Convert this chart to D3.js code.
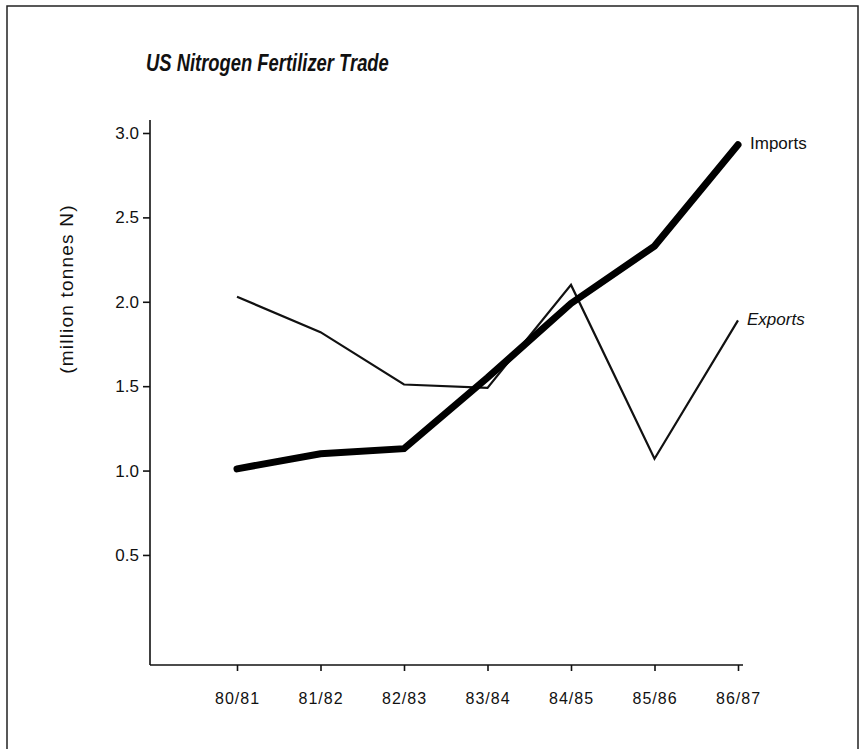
<!DOCTYPE html>
<html>
<head>
<meta charset="utf-8">
<script src="https://cdn.jsdelivr.net/npm/d3@7"></script>
<style>
  body { margin: 0; background: #fff; }
  text { font-family: "Liberation Sans", Arial, sans-serif; fill: #111; }
</style>
</head>
<body>
<div id="chart"></div>
<script>
var seasons = ["80/81", "81/82", "82/83", "83/84", "84/85", "85/86", "86/87"];
var imports = [1.01, 1.10, 1.13, 1.55, 1.99, 2.33, 2.93];
var exports = [2.03, 1.82, 1.51, 1.49, 2.10, 1.07, 1.89];
var yTicks = [0.5, 1.0, 1.5, 2.0, 2.5, 3.0];

var width = 865,
  height = 749,
  svg = d3
    .select("#chart")
    .append("svg")
    .attr("width", width)
    .attr("height", height);

var margin = { top: 120, right: 121, bottom: 84, left: 150 },
  iwidth = width - margin.left - margin.right,
  iheight = height - margin.top - margin.bottom;

// page frame (top, left, right edges)
svg.append("path")
  .attr("d", "M7,749 L7,6 L858,6 L858,749")
  .attr("fill", "none")
  .attr("stroke", "#222")
  .attr("stroke-width", 1.5);

svg.append("text")
  .attr("transform", "translate(146,71) scale(0.8,1)")
  .style("font-size", "23px")
  .style("font-weight", "bold")
  .style("font-style", "italic")
  .text("US Nitrogen Fertilizer Trade");

var g = svg.append("g")
  .attr("transform", `translate(${margin.left}, ${margin.top})`);

var x = d3.scalePoint().domain(seasons).range([87, 588]);
var y = d3.scaleLinear().domain([-0.152, 3.077]).range([iheight, 0]);

// y axis
var yAxis = g.append("g")
  .call(d3.axisLeft(y).tickValues(yTicks).tickFormat(d3.format(".1f")).tickSize(7).tickSizeOuter(0).tickPadding(4));
yAxis.select(".domain").attr("d", `M0,0V${iheight}`).attr("stroke", "#111").attr("stroke-width", 1.6);
yAxis.selectAll(".tick line").attr("stroke", "#111").attr("stroke-width", 1.6);
yAxis.selectAll(".tick text")
  .style("font-size", "17px")
  .style("font-family", "'Liberation Sans', Arial, sans-serif")
  .attr("fill", "#111");

// x axis
var xAxis = g.append("g")
  .attr("transform", `translate(0,${iheight})`)
  .call(d3.axisBottom(x).tickSize(6).tickSizeOuter(0).tickPadding(22));
xAxis.select(".domain").attr("d", `M0,0H${iwidth - 1}`).attr("stroke", "#111").attr("stroke-width", 1.6);
xAxis.selectAll(".tick text")
  .style("font-size", "16px")
  .style("letter-spacing", "1px")
  .style("font-family", "'Liberation Sans', Arial, sans-serif")
  .attr("fill", "#111");
xAxis.selectAll(".tick line").attr("stroke", "#111").attr("stroke-width", 1.6);

g.append("text")
  .attr("transform", `translate(${68 - margin.left}, ${289 - margin.top}) rotate(-90)`)
  .attr("text-anchor", "middle")
  .attr("dominant-baseline", "middle")
  .style("font-size", "19px")
  .style("letter-spacing", "1.2px")
  .text("(million tonnes N)");

var line = d3.line()
  .x(function(d, i) { return x(seasons[i]); })
  .y(function(d) { return y(d); });

g.append("path")
  .datum(exports)
  .attr("d", line)
  .attr("fill", "none")
  .attr("stroke", "#111")
  .attr("stroke-width", 2.2)
  .attr("stroke-linejoin", "miter");

g.append("path")
  .datum(imports)
  .attr("d", line)
  .attr("fill", "none")
  .attr("stroke", "#000")
  .attr("stroke-width", 7)
  .attr("stroke-linecap", "round");

g.append("text")
  .attr("x", x("86/87") + 12)
  .attr("y", y(imports[6]))
  .attr("dominant-baseline", "middle")
  .style("font-size", "17px")
  .text("Imports");

g.append("text")
  .attr("x", x("86/87") + 9)
  .attr("y", y(exports[6]))
  .attr("dominant-baseline", "middle")
  .style("font-size", "17px")
  .style("font-style", "italic")
  .text("Exports");
</script>
</body>
</html>
